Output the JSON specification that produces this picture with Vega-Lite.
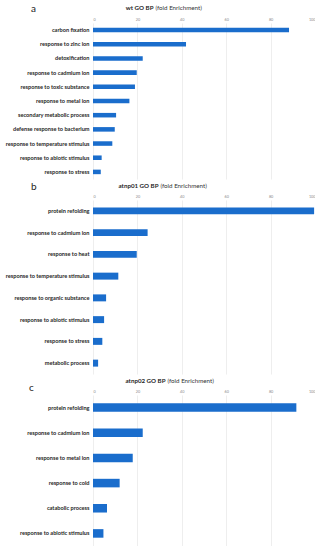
{
  "$schema": "https://vega.github.io/schema/vega-lite/v6.json",
  "padding": {"left": 5, "top": 4, "right": 0, "bottom": 0},
  "background": "white",
  "spacing": 3,
  "config": {
    "view": {"stroke": null},
    "font": "Lato",
    "axisY": {"domain": false, "ticks": false, "labelFont": "Lato", "labelFontWeight": "bold", "labelFontSize": 5.6, "labelColor": "#262626", "labelPadding": 4, "minExtent": 86, "maxExtent": 86, "labelLimit": 200, "titleAngle": 0, "titleFontWeight": "normal", "titleFontSize": 6.2, "titleColor": "#333333", "titleAlign": "left", "titleBaseline": "middle", "titleFont": "Lato"},
    "axisX": {"domain": false, "ticks": false, "labelFontSize": 3.8, "labelColor": "#8c8c8c", "labelPadding": 2, "grid": true, "gridColor": "#e3e3e3", "gridWidth": 0.6, "titleFontWeight": "bold", "titleFontSize": 6.2, "titleColor": "#262626", "titleAlign": "right", "titleBaseline": "middle", "titleFont": "Lato"},
    "title": {"fontSize": 10, "fontWeight": "normal", "font": "Lato", "color": "#222222", "anchor": "start", "frame": "group", "offset": 0}
  },
  "datasets": {
    "a": [
      {"term": "carbon fixation", "fe": 88.3},
      {"term": "response to zinc ion", "fe": 41.9},
      {"term": "detoxification", "fe": 22.4},
      {"term": "response to cadmium ion", "fe": 19.7},
      {"term": "response to toxic substance", "fe": 18.9},
      {"term": "response to metal ion", "fe": 16.4},
      {"term": "secondary metabolic process", "fe": 10.4},
      {"term": "defense response to bacterium", "fe": 9.8},
      {"term": "response to temperature stimulus", "fe": 8.7},
      {"term": "response to abiotic stimulus", "fe": 3.9},
      {"term": "response to stress", "fe": 3.5}
    ],
    "b": [
      {"term": "protein refolding", "fe": 99.6},
      {"term": "response to cadmium ion", "fe": 24.6},
      {"term": "response to heat", "fe": 19.7},
      {"term": "response to temperature stimulus", "fe": 11.4},
      {"term": "response to organic substance", "fe": 5.9},
      {"term": "response to abiotic stimulus", "fe": 5.0},
      {"term": "response to stress", "fe": 4.2},
      {"term": "metabolic process", "fe": 2.3}
    ],
    "c": [
      {"term": "protein refolding", "fe": 91.6},
      {"term": "response to cadmium ion", "fe": 22.4},
      {"term": "response to metal ion", "fe": 17.9},
      {"term": "response to cold", "fe": 12.0},
      {"term": "catabolic process", "fe": 6.3},
      {"term": "response to abiotic stimulus", "fe": 4.7}
    ]
  },
  "vconcat": [
    {
      "data": {"name": "a"},
      "width": 222, "height": 156,
      "title": {"text": "a", "dx": -62, "dy": 14},
      "mark": {"type": "bar", "color": "#1a6dcc"},
      "encoding": {
        "y": {"field": "term", "type": "nominal", "sort": null, "scale": {"paddingInner": 0.68, "paddingOuter": 0.34}, "axis": {"title": "(fold Enrichment)", "titleX": 62, "titleY": -16}},
        "x": {"field": "fe", "type": "quantitative", "scale": {"domain": [0, 100]}, "axis": {"orient": "top", "values": [0, 20, 40, 60, 80, 100], "title": "wt GO BP", "titleX": 60, "titleY": -16}}
      }
    },
    {
      "data": {"name": "b"},
      "width": 222, "height": 174,
      "title": {"text": "b", "dx": -62, "dy": 14},
      "mark": {"type": "bar", "color": "#1a6dcc"},
      "encoding": {
        "y": {"field": "term", "type": "nominal", "sort": null, "scale": {"paddingInner": 0.68, "paddingOuter": 0.34}, "axis": {"title": "(fold Enrichment)", "titleX": 67, "titleY": -15}},
        "x": {"field": "fe", "type": "quantitative", "scale": {"domain": [0, 100]}, "axis": {"orient": "top", "values": [0, 20, 40, 60, 80, 100], "title": "atnp01 GO BP", "titleX": 65, "titleY": -15}}
      }
    },
    {
      "data": {"name": "c"},
      "width": 222, "height": 151,
      "title": {"text": "c", "dx": -64, "dy": 20},
      "mark": {"type": "bar", "color": "#1a6dcc"},
      "encoding": {
        "y": {"field": "term", "type": "nominal", "sort": null, "scale": {"paddingInner": 0.66, "paddingOuter": 0.33}, "axis": {"title": "(fold Enrichment)", "titleX": 74, "titleY": -15}},
        "x": {"field": "fe", "type": "quantitative", "scale": {"domain": [0, 100]}, "axis": {"orient": "top", "values": [0, 20, 40, 60, 80, 100], "title": "atnp02 GO BP", "titleX": 72, "titleY": -15}}
      }
    }
  ]
}
